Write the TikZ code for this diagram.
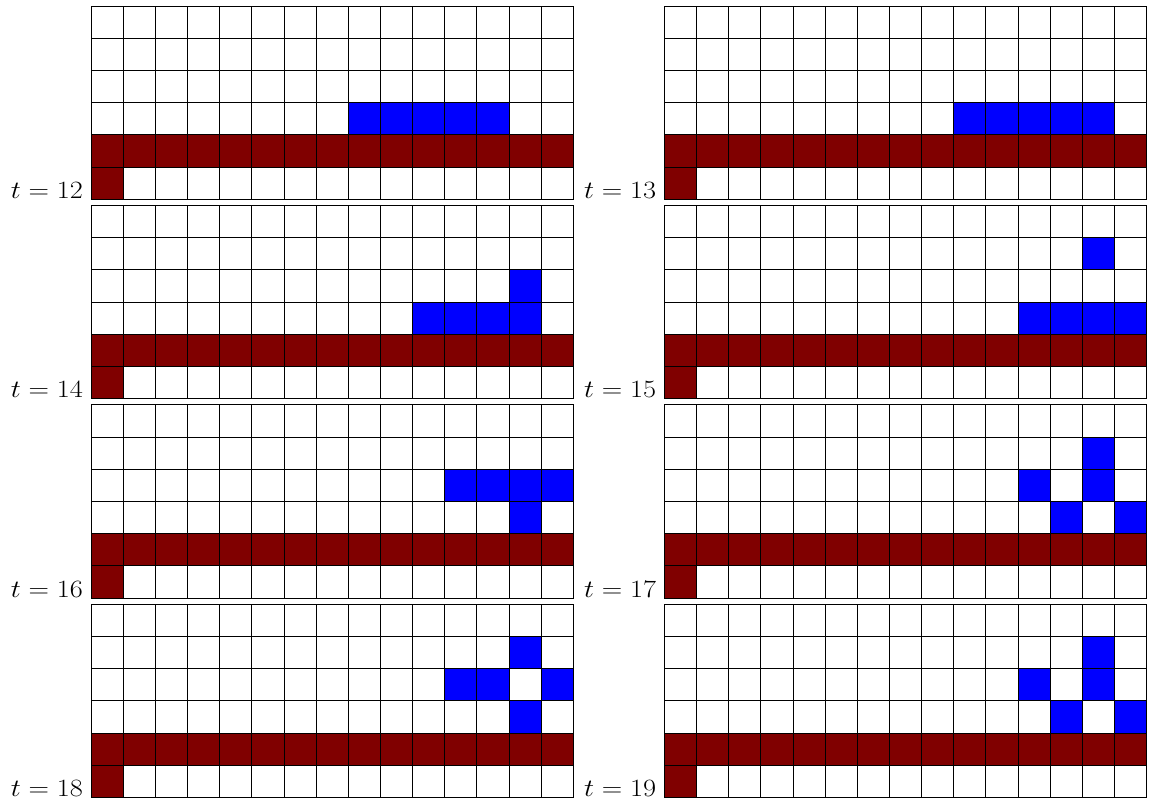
\documentclass[tikz,border=0pt]{standalone}
\usepackage{graphicx}
\definecolor{wall}{HTML}{800000}
\definecolor{cellblue}{HTML}{0000FF}
\tikzset{
  gridline/.style={draw=black,line width=0.7pt},
  wallcell/.style={fill=wall},
  bluecell/.style={fill=cellblue},
  tlabel/.style={anchor=base east,inner sep=0pt,font=\fontsize{24}{24}\selectfont}
}
\newcommand\capanel[4]{%
  \begin{scope}[shift={(#1,#2)},x=32.15pt,y=-32.2pt]
    \fill[wallcell] (0,4) rectangle (15,5);
    \fill[wallcell] (0,5) rectangle (1,6);
    \foreach \c/\r in {#4} {\fill[bluecell] (\c-1,\r-1) rectangle (\c,\r);}
    \foreach \i in {1,...,14} {\draw[gridline] (\i,0) -- (\i,6);}
    \foreach \j in {1,...,5} {\draw[gridline] (0,\j) -- (15,\j);}
    \draw[gridline] (0,0) rectangle (15,6);
  \end{scope}
  \node[tlabel] (lab#3) at (#1-7.8,#2+192.5) {\scalebox{1.14}[1]{$t = #3$}};
}
\begin{document}
\begin{tikzpicture}[x=1pt,y=-1pt]
  \useasboundingbox (0,0) rectangle (1149,803);
  \capanel{91}{6}{12}{9/4,10/4,11/4,12/4,13/4}
  \capanel{664.3}{6}{13}{10/4,11/4,12/4,13/4,14/4}
  \capanel{91}{205.4}{14}{11/4,12/4,13/4,14/4,14/3}
  \capanel{664.3}{205.4}{15}{14/2,12/4,13/4,14/4,15/4}
  \capanel{91}{404.8}{16}{12/3,13/3,14/3,15/3,14/4}
  \capanel{664.3}{404.8}{17}{14/2,14/3,12/3,13/4,15/4}
  \capanel{91}{604.2}{18}{14/2,12/3,13/3,15/3,14/4}
  \capanel{664.3}{604.2}{19}{14/2,14/3,12/3,13/4,15/4}
\end{tikzpicture}
\end{document}
